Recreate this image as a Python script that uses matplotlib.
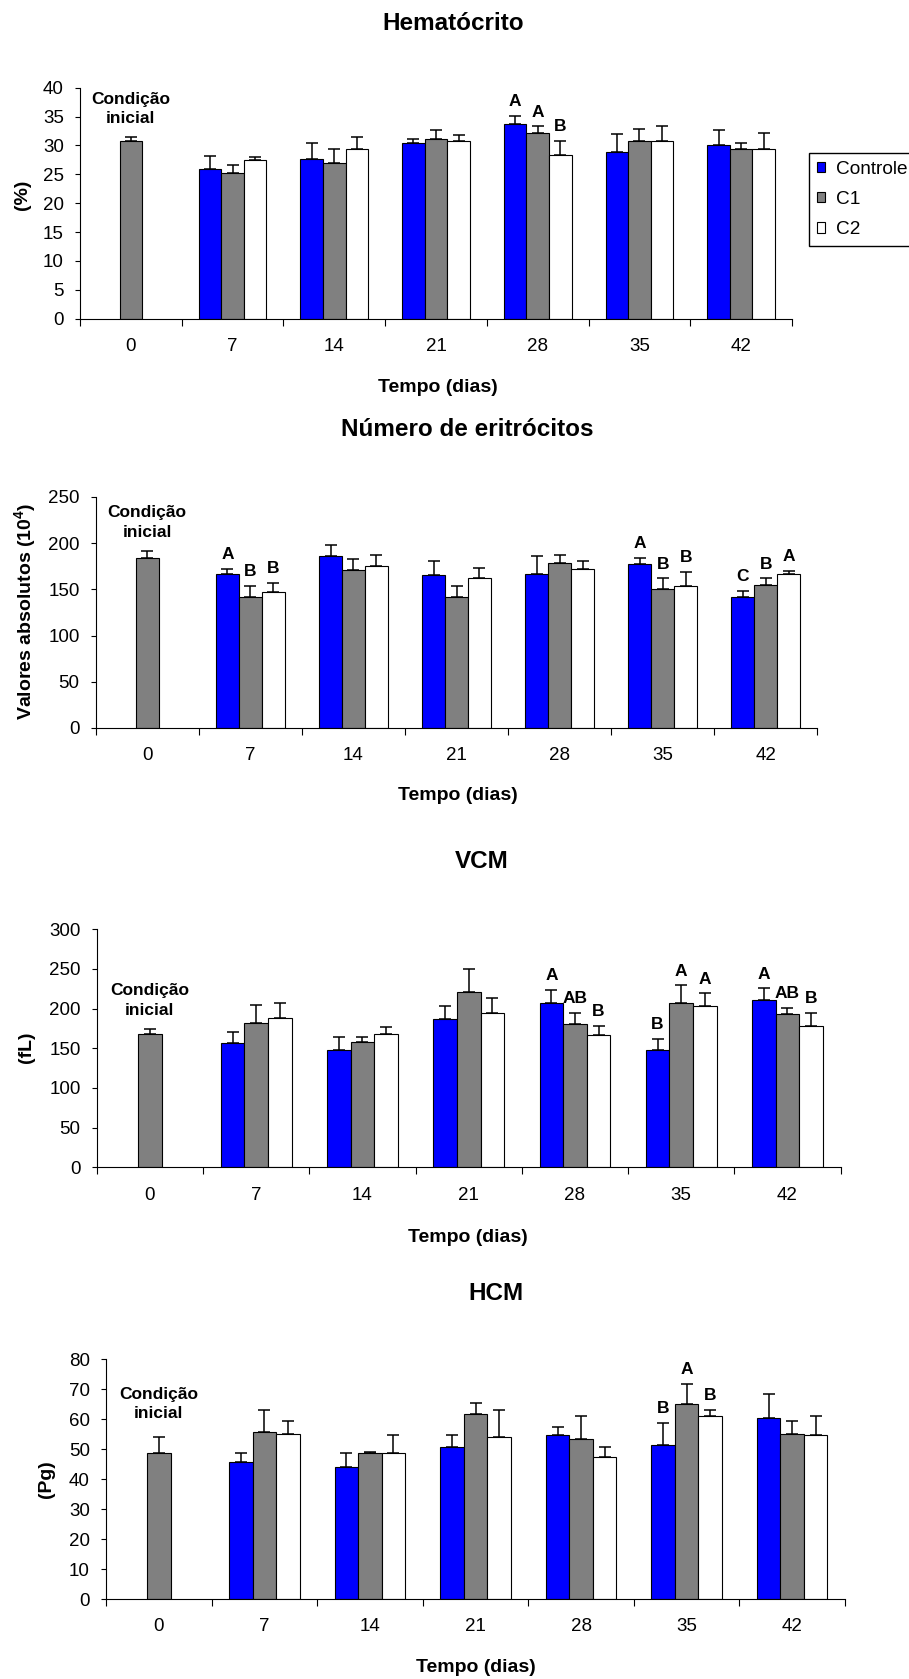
import matplotlib
matplotlib.use('Agg')
import matplotlib.pyplot as plt
from matplotlib.patches import Patch
import numpy as np

plt.rcParams['font.family'] = ['Liberation Sans', 'DejaVu Sans']
plt.rcParams['mathtext.fontset'] = 'custom'
plt.rcParams['mathtext.rm'] = 'Liberation Sans'
plt.rcParams['mathtext.bf'] = 'Liberation Sans:bold'

# dados
dias = ['0', '7', '14', '21', '28', '35', '42']
grupos = ['Controle', 'C1', 'C2']
cores = ['#0000FF', '#808080', '#FFFFFF']

# Hematocrito (%)
hemat_inicial = 30.8
hemat_inicial_sup = 31.5
hemat_controle = [25.9, 27.6, 30.5, 33.8, 28.9, 30.0]
hemat_controle_sup = [28.1, 30.5, 31.1, 35.1, 31.9, 32.7]
hemat_c1 = [25.3, 27.0, 31.1, 32.1, 30.8, 29.4]
hemat_c1_sup = [26.7, 29.4, 32.7, 33.3, 32.9, 30.5]
hemat_c2 = [27.5, 29.4, 30.8, 28.3, 30.8, 29.4]
hemat_c2_sup = [28.0, 31.5, 31.8, 30.8, 33.3, 32.2]
hemat_letras = [None, None, None, ('A', 'A', 'B'), None, None]

# Numero de eritrocitos (10^4)
erit_inicial = 184.2
erit_inicial_sup = 191.4
erit_controle = [166.9, 186.0, 165.8, 166.9, 177.0, 141.7]
erit_controle_sup = [172.3, 197.8, 180.6, 186.0, 184.2, 148.2]
erit_c1 = [141.7, 170.5, 141.7, 179.1, 150.0, 155.0]
erit_c1_sup = [153.6, 182.4, 153.6, 187.4, 161.9, 161.9]
erit_c2 = [146.8, 175.5, 161.9, 171.9, 153.6, 166.9]
erit_c2_sup = [156.8, 187.4, 173.7, 180.6, 168.7, 170.1]
erit_letras = [('A', 'B', 'B'), None, None, None, ('A', 'B', 'B'), ('C', 'B', 'A')]

# VCM (fL)
vcm_inicial = 168.5
vcm_inicial_sup = 174.4
vcm_controle = [156.3, 147.9, 186.6, 207.1, 147.9, 210.9]
vcm_controle_sup = [170.2, 164.3, 202.9, 223.5, 161.8, 225.6]
vcm_c1 = [182.4, 158.0, 221.4, 180.7, 207.1, 192.9]
vcm_c1_sup = [205.0, 164.3, 250.4, 195.0, 229.4, 200.8]
vcm_c2 = [188.7, 168.5, 195.0, 166.4, 202.9, 178.6]
vcm_c2_sup = [207.1, 176.5, 213.0, 178.6, 219.3, 195.0]
vcm_letras = [None, None, None, ('A', 'AB', 'B'), ('B', 'A', 'A'), ('A', 'AB', 'B')]

# HCM (Pg)
hcm_inicial = 48.6
hcm_inicial_sup = 53.9
hcm_controle = [45.8, 44.1, 50.8, 54.6, 51.3, 60.4]
hcm_controle_sup = [48.6, 48.6, 54.7, 57.2, 58.8, 68.2]
hcm_c1 = [55.6, 48.6, 61.6, 53.3, 64.9, 55.1]
hcm_c1_sup = [63.1, 49.1, 65.3, 61.1, 71.8, 59.3]
hcm_c2 = [55.1, 48.6, 53.9, 47.4, 61.0, 54.6]
hcm_c2_sup = [59.3, 54.6, 63.1, 50.7, 63.1, 61.1]
hcm_letras = [None, None, None, None, ('B', 'A', 'B'), None]

W, H = 909, 1679
LARG = 1 / 4.5  # largura da barra (gap 150%)


def caixa(esq, topo, dir, base):
    return [esq / W, 1 - base / H, (dir - esq) / W, (base - topo) / H]


def texto(fig, x, y, s, **kw):
    fig.text(x / W, 1 - y / H, s, ha='center', va='center', **kw)


def painel(fig, pos, inicial, inicial_sup, series, sups, letras, ymax, passo, y_cond):
    ax = fig.add_axes(caixa(*pos))
    x = np.arange(1, 7)
    desloc = [-LARG, 0, LARG]

    ax.bar([0], [inicial], LARG, color=cores[1], edgecolor='black', linewidth=0.8, zorder=2)
    ax.errorbar([0], [inicial], yerr=[[0], [inicial_sup - inicial]], fmt='none',
                ecolor='black', elinewidth=1.1, capsize=4, capthick=1.1, zorder=3)

    for i in range(3):
        vals = np.array(series[i])
        sup = np.array(sups[i])
        ax.bar(x + desloc[i], vals, LARG, color=cores[i], edgecolor='black',
               linewidth=0.8, zorder=2, label=grupos[i])
        ax.errorbar(x + desloc[i], vals, yerr=[np.zeros(6), sup - vals], fmt='none',
                    ecolor='black', elinewidth=1.1, capsize=4, capthick=1.1, zorder=3)

    for j, lt in enumerate(letras):
        if lt is None:
            continue
        for i in range(3):
            ax.annotate(lt[i], (x[j] + desloc[i], sups[i][j]), xytext=(0, 7),
                        textcoords='offset points', ha='center', va='baseline',
                        fontsize=12.5, fontweight='bold')

    ax.text(0, y_cond, 'Condição\ninicial', ha='center', va='center',
            fontsize=12.5, fontweight='bold', linespacing=1.4)

    ax.set_xlim(-0.5, 6.5)
    ax.set_ylim(0, ymax)
    ax.set_yticks(np.arange(0, ymax + passo / 2, passo))
    ax.set_xticks(np.arange(7), dias)
    ax.set_xticks(np.arange(-0.5, 7, 1), minor=True)
    ax.tick_params(axis='x', which='major', length=0, pad=14, labelsize=13.5)
    ax.tick_params(axis='x', which='minor', length=4.8, width=0.8, direction='out')
    ax.tick_params(axis='y', length=3.6, width=0.8, direction='out', pad=8, labelsize=13.5)
    for lado in ['top', 'right']:
        ax.spines[lado].set_visible(False)
    for lado in ['left', 'bottom']:
        ax.spines[lado].set_linewidth(0.8)
    return ax


fig = plt.figure(figsize=(9.09, 16.79), dpi=100)

# Hematocrito
ax1 = painel(fig, (80, 87.7, 792, 318.7), hemat_inicial, hemat_inicial_sup,
             [hemat_controle, hemat_c1, hemat_c2],
             [hemat_controle_sup, hemat_c1_sup, hemat_c2_sup],
             hemat_letras, 40, 5, 36.3)
texto(fig, 453, 23, 'Hematócrito', fontsize=17.5, fontweight='bold')
texto(fig, 438, 387, 'Tempo (dias)', fontsize=14, fontweight='bold')
texto(fig, 22, 195, '(%)', fontsize=14, fontweight='bold', rotation=90)

handles = [Patch(facecolor=c, edgecolor='black', linewidth=0.8) for c in cores]
fig.legend(handles, grupos, loc='upper left', bbox_to_anchor=(809 / W, 1 - 153 / H),
           borderaxespad=0, fontsize=13.7, frameon=True, fancybox=False,
           edgecolor='black', framealpha=1, handlelength=0.45, handleheight=0.45,
           handletextpad=0.55, labelspacing=0.7, borderpad=0.4)

# Numero de eritrocitos
ax2 = painel(fig, (95.7, 497, 817.4, 728), erit_inicial, erit_inicial_sup,
             [erit_controle, erit_c1, erit_c2],
             [erit_controle_sup, erit_c1_sup, erit_c2_sup],
             erit_letras, 250, 50, 222)
texto(fig, 467, 430, 'Número de eritrócitos', fontsize=17.5, fontweight='bold')
texto(fig, 458, 795, 'Tempo (dias)', fontsize=14, fontweight='bold')
texto(fig, 26, 611, r'Valores absolutos (10$^{\mathbf{4}}$)', fontsize=14,
      fontweight='bold', rotation=90)

# VCM
ax3 = painel(fig, (96.8, 929.3, 840.6, 1167.3), vcm_inicial, vcm_inicial_sup,
             [vcm_controle, vcm_c1, vcm_c2],
             [vcm_controle_sup, vcm_c1_sup, vcm_c2_sup],
             vcm_letras, 300, 50, 210)
texto(fig, 482, 862, 'VCM', fontsize=17.5, fontweight='bold')
texto(fig, 468, 1237, 'Tempo (dias)', fontsize=14, fontweight='bold')
texto(fig, 26, 1047, '(fL)', fontsize=14, fontweight='bold', rotation=90)

# HCM
ax4 = painel(fig, (106, 1359, 845, 1599), hcm_inicial, hcm_inicial_sup,
             [hcm_controle, hcm_c1, hcm_c2],
             [hcm_controle_sup, hcm_c1_sup, hcm_c2_sup],
             hcm_letras, 80, 10, 65)
texto(fig, 496, 1293, 'HCM', fontsize=17.5, fontweight='bold')
texto(fig, 476, 1667, 'Tempo (dias)', fontsize=14, fontweight='bold')
texto(fig, 46, 1479, '(Pg)', fontsize=14, fontweight='bold', rotation=90)

fig.savefig('out.png', dpi=100)
